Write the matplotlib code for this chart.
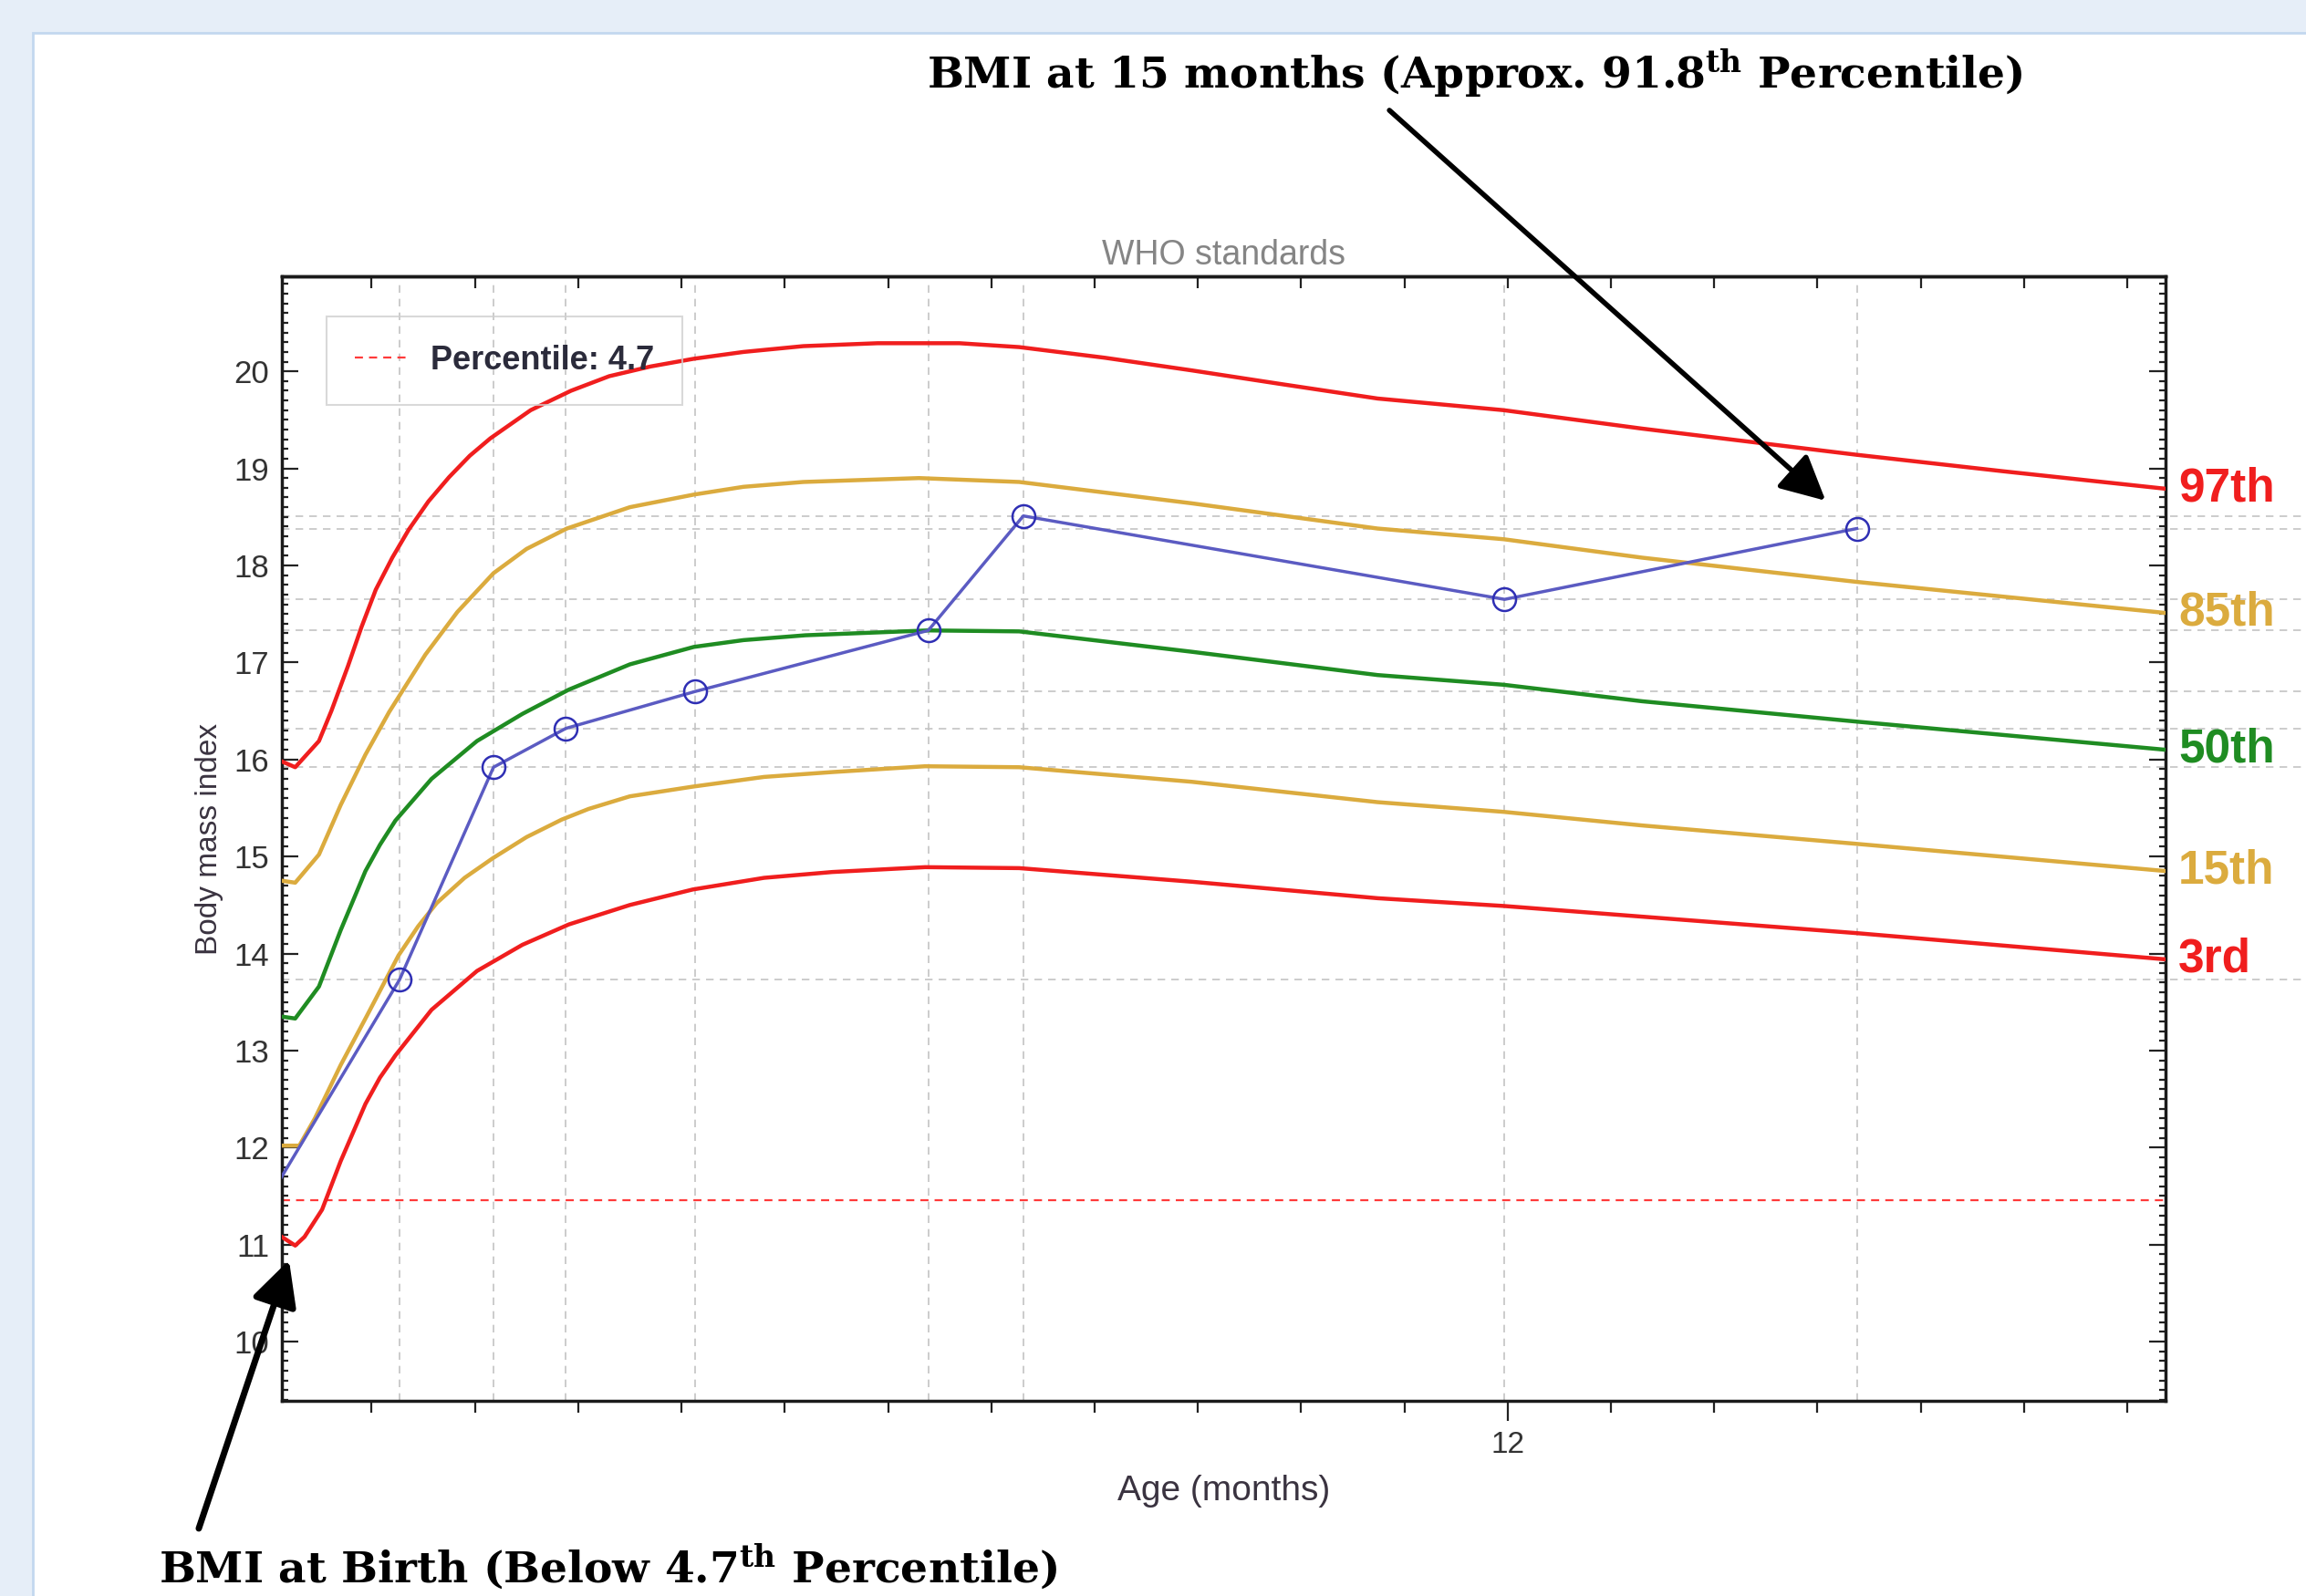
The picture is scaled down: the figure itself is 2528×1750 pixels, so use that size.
import matplotlib
matplotlib.use("Agg")
import matplotlib.pyplot as plt
from matplotlib.patches import Rectangle
from matplotlib.ticker import FixedLocator, MultipleLocator

plt.rcParams['font.family'] = ['Liberation Sans', 'DejaVu Sans']
plt.rcParams['mathtext.fontset'] = 'custom'
plt.rcParams['mathtext.rm'] = 'DejaVu Serif'
plt.rcParams['mathtext.bf'] = 'DejaVu Serif:bold'

# WHO BMI-for-age percentile curves (age in months)
age_p97 = [0.13, 0.26, 0.49, 0.61, 0.77, 0.90, 1.04, 1.20, 1.36, 1.55, 1.75, 1.95, 2.15, 2.54, 2.93, 3.30, 3.70, 4.12, 4.60, 5.18, 5.90, 6.69, 7.27, 8.10, 8.94, 9.80, 10.74, 11.96, 13.30, 14.30, 15.38, 16.80, 18.37]
bmi_p97 = [15.98, 15.92, 16.19, 16.50, 16.96, 17.36, 17.75, 18.08, 18.37, 18.66, 18.91, 19.13, 19.31, 19.60, 19.80, 19.95, 20.05, 20.13, 20.20, 20.26, 20.29, 20.29, 20.25, 20.14, 20.01, 19.87, 19.72, 19.60, 19.41, 19.28, 19.14, 18.97, 18.79]

age_p85 = [0.13, 0.26, 0.49, 0.70, 0.94, 1.17, 1.52, 1.83, 2.18, 2.50, 2.89, 3.50, 4.12, 4.60, 5.18, 6.30, 7.27, 8.94, 10.74, 11.96, 13.30, 15.38, 18.37]
bmi_p85 = [14.75, 14.73, 15.02, 15.53, 16.05, 16.49, 17.08, 17.52, 17.92, 18.17, 18.38, 18.60, 18.73, 18.81, 18.86, 18.90, 18.86, 18.64, 18.38, 18.27, 18.08, 17.83, 17.51]

age_p50 = [0.13, 0.26, 0.49, 0.70, 0.94, 1.08, 1.23, 1.58, 2.02, 2.46, 2.91, 3.50, 4.12, 4.60, 5.20, 6.39, 7.27, 8.94, 10.74, 11.96, 13.30, 15.38, 18.37]
bmi_p50 = [13.35, 13.33, 13.66, 14.24, 14.85, 15.12, 15.37, 15.80, 16.19, 16.47, 16.72, 16.98, 17.16, 17.23, 17.28, 17.33, 17.32, 17.11, 16.87, 16.77, 16.60, 16.39, 16.10]

age_p15 = [0.13, 0.30, 0.45, 0.70, 0.95, 1.26, 1.45, 1.63, 1.90, 2.17, 2.50, 2.84, 3.10, 3.50, 4.11, 4.80, 5.46, 6.36, 7.27, 8.94, 10.74, 11.96, 13.30, 15.38, 18.37]
bmi_p15 = [12.02, 12.02, 12.30, 12.85, 13.35, 13.98, 14.28, 14.52, 14.78, 14.98, 15.20, 15.38, 15.49, 15.62, 15.72, 15.82, 15.87, 15.93, 15.92, 15.77, 15.56, 15.46, 15.32, 15.13, 14.85]

age_p3 = [0.13, 0.26, 0.35, 0.52, 0.70, 0.94, 1.08, 1.23, 1.58, 2.02, 2.46, 2.91, 3.50, 4.11, 4.80, 5.46, 6.36, 7.27, 8.94, 10.74, 11.96, 13.30, 15.38, 18.37]
bmi_p3 = [11.08, 10.99, 11.08, 11.36, 11.86, 12.45, 12.72, 12.95, 13.42, 13.82, 14.09, 14.30, 14.50, 14.66, 14.78, 14.84, 14.89, 14.88, 14.74, 14.57, 14.49, 14.38, 14.21, 13.94]

curve_names = ['97th', '85th', '50th', '15th', '3rd']
curve_colors = ['#f01e1e', '#dbab3e', '#1f8c22', '#dbab3e', '#f01e1e']

# child's measurements
pat_age = [0.0, 1.27, 2.18, 2.88, 4.13, 6.39, 7.31, 11.97, 15.38]
pat_bmi = [11.47, 13.73, 15.92, 16.32, 16.70, 17.33, 18.51, 17.65, 18.38]

cutoff_bmi = 11.46
cutoff_label = 'Percentile: 4.7'

fig = plt.figure(figsize=(25.28, 17.5), dpi=100, facecolor='#e6eef8')
fig.patches.append(Rectangle((36 / 2528, -0.01), 1.1, 1.01 - 36 / 1750, transform=fig.transFigure,
                             facecolor='white', edgecolor='#c3d8ef', lw=2, zorder=-10))

ax = fig.add_axes([0.1222, 0.1223, 0.8169, 0.7046])
ax.set_zorder(1)

curves = [(age_p97, bmi_p97), (age_p85, bmi_p85), (age_p50, bmi_p50), (age_p15, bmi_p15), (age_p3, bmi_p3)]
for (a, b), name, c in zip(curves, curve_names, curve_colors):
    ax.plot(a, b, color=c, lw=3.2, zorder=3, solid_joinstyle='round')
    ax.annotate(name, xy=(a[-1], b[-1]), xytext=(10, 0), textcoords='offset points',
                ha='left', va='center', color=c, fontsize=37, fontweight='bold',
                annotation_clip=False)

# dashed guide lines through each visit
grid_kw = dict(color='#c4c4c4', lw=1.2, ls=(0, (5, 4)), zorder=1)
for a in pat_age[1:]:
    ax.axvline(a, **grid_kw)
for b in pat_bmi[1:]:
    ax.axhline(b, xmin=0, xmax=1.075, clip_on=False, **grid_kw)

ax.axhline(cutoff_bmi, color='#ff3a3a', lw=1.6, ls=(0, (4, 3)), zorder=2, label=cutoff_label)

ax.plot(pat_age, pat_bmi, color='#5b5bc2', lw=2.5, marker='o', ms=18, mfc='none',
        mec='#2e2eb4', mew=1.8, zorder=5)

ax.set_xlim(0.13, 18.37)
ax.set_ylim(9.39, 20.98)

ax.xaxis.set_major_locator(FixedLocator([12]))
ax.xaxis.set_minor_locator(FixedLocator([m for m in range(1, 19) if m != 12]))
ax.yaxis.set_major_locator(MultipleLocator(1))
ax.yaxis.set_minor_locator(MultipleLocator(0.1))

ax.tick_params(axis='x', which='both', direction='out', top=False, color='#222222', width=1.6)
ax.tick_params(axis='x', which='major', length=16, pad=8, labelsize=24, labelcolor='#333333')
ax.tick_params(axis='x', which='minor', length=9)
ax.tick_params(axis='y', which='both', direction='in', left=True, right=True, color='#222222', width=1.6)
ax.tick_params(axis='y', which='major', length=13, pad=10, labelsize=25, labelcolor='#333333')
ax.tick_params(axis='y', which='minor', length=5)

top = ax.secondary_xaxis('top')
top.set_xticks(range(1, 19))
top.tick_params(direction='in', length=9, width=1.6, color='#222222', labeltop=False)
top.spines['top'].set_linewidth(2.5)

for s in ax.spines.values():
    s.set_linewidth(2.5)
    s.set_color('#1a1a1a')

ax.set_title('WHO standards', fontsize=27, color='#858585', pad=9)
ax.set_xlabel('Age (months)', fontsize=28, color='#3a3340')
ax.xaxis.set_label_coords(0.5, -0.066)
ax.set_ylabel('Body mass index', fontsize=24, color='#3a3340', labelpad=8)

leg = ax.legend(loc='upper left', bbox_to_anchor=(0.0237, 0.964), borderaxespad=0,
                fancybox=False, edgecolor='#d0d0d0', facecolor='none',
                prop={'weight': 'bold', 'size': 26}, labelcolor='#2b2b3b',
                handlelength=1.6, handletextpad=0.7, borderpad=0.85)
leg.get_frame().set_linewidth(1.5)

arrow_kw = dict(arrowstyle='-|>,head_length=0.75,head_width=0.38', mutation_scale=40,
                color='black', shrinkA=0)
ax.annotate('', xy=(pat_age[-1], pat_bmi[-1]), xytext=(0.6025, 0.9309), textcoords='figure fraction',
            arrowprops=dict(lw=4, shrinkB=33, **arrow_kw), annotation_clip=False)
ax.annotate('', xy=(0.2, 10.84), xytext=(0.0862, 0.0423), textcoords='figure fraction',
            arrowprops=dict(lw=5, shrinkB=0, **arrow_kw), annotation_clip=False)

fig.text(0.402, 0.954, r'BMI at 15 months (Approx. 91.8$^{\mathbf{th}}$ Percentile)',
         ha='left', va='center', fontsize=34, family='DejaVu Serif', weight='bold')
fig.text(0.0688, 0.0183, r'BMI at Birth (Below 4.7$^{\mathbf{th}}$ Percentile)',
         ha='left', va='center', fontsize=34, family='DejaVu Serif', weight='bold')

fig.savefig('out.png', dpi=100, facecolor=fig.get_facecolor())
